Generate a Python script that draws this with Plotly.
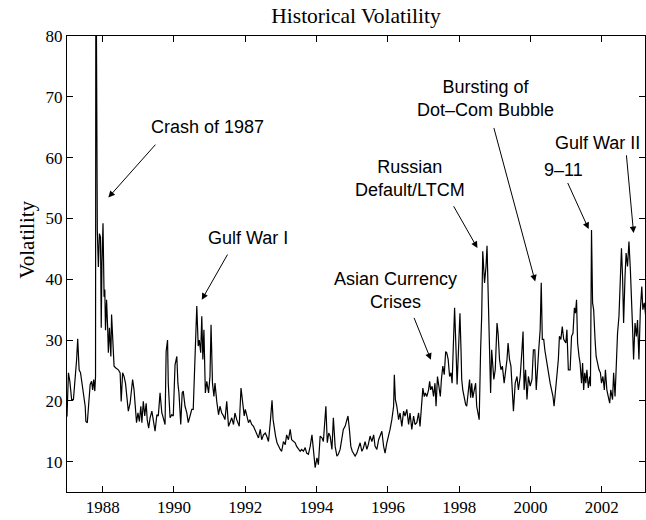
import plotly.graph_objects as go

# ---- data (decimal year, volatility) ----
years = [
    1987.00, 1987.02, 1987.04, 1987.08, 1987.13, 1987.18, 1987.22, 1987.27, 1987.30, 1987.34,
    1987.38, 1987.42, 1987.46, 1987.51, 1987.53, 1987.57, 1987.61, 1987.65, 1987.69, 1987.72,
    1987.75, 1987.78,
    1987.80, 1987.81, 1987.83, 1987.85, 1987.88, 1987.91, 1987.94, 1987.96, 1987.98, 1988.01,
    1988.04, 1988.06, 1988.08, 1988.11, 1988.14, 1988.16, 1988.19, 1988.23, 1988.25, 1988.28,
    1988.32, 1988.37, 1988.44, 1988.49, 1988.52, 1988.56, 1988.60, 1988.64, 1988.67, 1988.72,
    1988.77, 1988.81, 1988.84, 1988.88, 1988.92, 1988.95, 1988.99,
    1989.03, 1989.07, 1989.10, 1989.14, 1989.18, 1989.22, 1989.25, 1989.29, 1989.33, 1989.38,
    1989.42, 1989.47, 1989.52, 1989.56, 1989.61, 1989.66, 1989.70, 1989.75, 1989.78, 1989.82,
    1989.84, 1989.89, 1989.94, 1989.98, 1990.03, 1990.08, 1990.11, 1990.14, 1990.19, 1990.23,
    1990.26, 1990.31, 1990.36, 1990.40, 1990.45, 1990.50, 1990.54, 1990.59, 1990.64, 1990.68,
    1990.71, 1990.75, 1990.78, 1990.81, 1990.84, 1990.88, 1990.92, 1990.97, 1991.01, 1991.04,
    1991.08, 1991.12, 1991.15, 1991.20, 1991.25, 1991.29, 1991.34, 1991.39, 1991.43, 1991.48,
    1991.53, 1991.57, 1991.62, 1991.67, 1991.71, 1991.76, 1991.83, 1991.88, 1991.93, 1991.97,
    1992.00, 1992.04, 1992.09, 1992.13, 1992.18, 1992.23, 1992.27, 1992.32, 1992.37, 1992.42,
    1992.46, 1992.51, 1992.56, 1992.60, 1992.65, 1992.70, 1992.75, 1992.78, 1992.81, 1992.85,
    1992.89, 1992.93, 1992.98, 1993.02, 1993.07, 1993.12, 1993.16, 1993.21, 1993.26, 1993.30,
    1993.35, 1993.40, 1993.44, 1993.49, 1993.54, 1993.58, 1993.63, 1993.68, 1993.72, 1993.77,
    1993.82, 1993.87, 1993.91, 1993.96, 1994.01, 1994.05, 1994.10, 1994.15, 1994.19, 1994.26,
    1994.30, 1994.34, 1994.38, 1994.43, 1994.47, 1994.52, 1994.57, 1994.61, 1994.66, 1994.71,
    1994.75, 1994.80, 1994.85, 1994.88, 1994.92, 1994.96, 1995.00, 1995.03, 1995.08, 1995.13,
    1995.22, 1995.27, 1995.31, 1995.36, 1995.41, 1995.45, 1995.50, 1995.55, 1995.60, 1995.64,
    1995.69, 1995.74, 1995.78, 1995.83, 1995.88, 1995.92, 1995.97, 1996.02, 1996.06, 1996.11,
    1996.16, 1996.18, 1996.21, 1996.25, 1996.30, 1996.34, 1996.39, 1996.44, 1996.48, 1996.53,
    1996.58, 1996.62, 1996.67, 1996.72, 1996.76, 1996.81, 1996.86, 1996.90, 1996.95, 1996.98,
    1997.02, 1997.05, 1997.09, 1997.14, 1997.17, 1997.20, 1997.24, 1997.28, 1997.32, 1997.35,
    1997.39, 1997.43, 1997.47, 1997.50, 1997.54, 1997.58, 1997.62, 1997.65, 1997.69, 1997.73,
    1997.77, 1997.80, 1997.84, 1997.87, 1997.91, 1997.94, 1997.98, 1998.02, 1998.05, 1998.07,
    1998.10, 1998.14, 1998.18, 1998.21, 1998.26, 1998.29, 1998.32, 1998.35, 1998.38, 1998.42,
    1998.46, 1998.49, 1998.53, 1998.56,
    1998.60, 1998.63, 1998.66, 1998.69, 1998.71, 1998.75, 1998.78, 1998.81, 1998.83, 1998.86,
    1998.88, 1998.91, 1998.93, 1998.97, 1999.01, 1999.06, 1999.09, 1999.13, 1999.17, 1999.21,
    1999.26, 1999.30, 1999.34, 1999.37, 1999.41, 1999.45, 1999.49, 1999.52, 1999.57, 1999.62,
    1999.66, 1999.71, 1999.76, 1999.79, 1999.82, 1999.86, 1999.90, 1999.94, 1999.99, 2000.04,
    2000.08, 2000.12, 2000.16, 2000.20, 2000.23, 2000.27, 2000.30, 2000.33, 2000.37, 2000.40,
    2000.44, 2000.48, 2000.51, 2000.55, 2000.59, 2000.63, 2000.66, 2000.70, 2000.74, 2000.78,
    2000.81, 2000.85, 2000.89, 2000.93,
    2000.99, 2001.02, 2001.06, 2001.11, 2001.15, 2001.19, 2001.23, 2001.26, 2001.29, 2001.32,
    2001.36, 2001.39, 2001.43, 2001.46, 2001.49, 2001.52, 2001.55, 2001.58, 2001.62, 2001.66,
    2001.68, 2001.71, 2001.74, 2001.77, 2001.81, 2001.84, 2001.88, 2001.92, 2001.96, 2001.99,
    2002.03, 2002.07, 2002.10, 2002.14, 2002.18, 2002.22, 2002.25, 2002.30, 2002.33, 2002.37,
    2002.40, 2002.44, 2002.48, 2002.52, 2002.55, 2002.58, 2002.61, 2002.65, 2002.68, 2002.72,
    2002.76, 2002.80, 2002.83, 2002.86, 2002.89, 2002.93, 2002.97, 2003.00, 2003.04, 2003.08,
    2003.12, 2003.15, 2003.19, 2003.23,
]

volatility = [
    17.4, 20.5, 24.6, 23.2, 20.2, 20.2, 22.9, 26.8, 30.2, 25.1,
    24.6, 22.7, 21.0, 19.1, 16.6, 16.4, 19.6, 22.7, 23.2, 21.8,
    23.5, 21.6,
    24.0, 100.0, 75.0, 48.0, 42.0, 47.5, 46.9, 32.0, 42.6, 49.2,
    37.1, 38.3, 31.6, 36.6, 32.0, 27.9, 32.0, 27.3, 34.2, 31.4,
    25.7, 25.4, 25.1, 24.6, 19.9, 24.6, 24.0, 22.9, 20.7, 18.3,
    19.6, 22.4, 23.5, 21.8, 19.1, 16.4, 18.0,
    16.6, 19.1, 16.4, 19.9, 17.5, 19.6, 16.9, 15.5, 17.2, 18.3,
    16.9, 15.0, 17.7, 17.5, 21.3, 18.0, 17.2, 16.1, 28.1, 30.0,
    22.9, 17.2, 17.7, 17.5, 25.9, 27.3, 22.9, 21.3, 16.1, 21.3,
    21.6, 19.1, 18.0, 16.4, 17.5, 18.6, 18.6, 27.9, 35.6, 29.0,
    30.0, 27.9, 33.9, 26.8, 31.7, 21.3, 23.2, 21.3, 24.0, 32.5,
    22.9, 20.7, 22.9, 19.9, 17.7, 19.1, 18.0, 17.5, 16.9, 19.9,
    15.8, 16.4, 17.2, 16.1, 18.0, 16.9, 15.8, 22.1, 19.1, 17.5,
    18.6, 17.5, 16.4, 16.9, 16.1, 15.8, 15.3, 14.7, 13.9, 15.3,
    13.6, 14.4, 14.7, 14.2, 13.3, 16.4, 20.1, 16.9, 15.3, 14.2,
    13.1, 12.5, 12.0, 11.7, 13.3, 12.8, 14.4, 13.6, 15.3, 13.6,
    13.3, 13.1, 12.5, 12.0, 11.7, 12.0, 11.7, 12.3, 11.4, 11.2,
    12.5, 14.4, 12.0, 9.0, 10.6, 9.5, 14.2, 13.9, 13.3, 19.1,
    13.1, 14.7, 14.2, 12.0, 17.2, 12.5, 10.9, 11.2, 12.0, 14.2,
    15.3, 15.8, 16.9, 17.5, 15.3, 12.5, 11.7, 11.4, 10.9, 11.4,
    13.1, 11.7, 12.2, 13.3, 12.0, 12.8, 14.2, 13.3, 14.4, 12.5,
    12.0, 13.6, 14.2, 15.0, 12.5, 11.4, 13.1, 14.2, 15.3, 16.9,
    19.1, 24.3, 20.2, 19.1, 16.9, 18.0, 15.8, 18.3, 17.5, 18.6,
    16.1, 18.0, 15.3, 17.5, 16.1, 16.4, 18.0, 15.8, 19.6, 22.1,
    20.7, 21.3, 20.7, 21.8, 23.2, 21.8, 22.4, 20.7, 22.9, 19.1,
    24.0, 21.8, 20.7, 23.5, 25.7, 24.3, 28.1, 27.9, 26.8, 24.0,
    24.6, 22.9, 31.1, 35.3, 28.4, 22.7, 28.4, 34.4, 28.4, 23.5,
    21.8, 20.2, 19.4, 19.1, 21.8, 23.5, 20.5, 22.9, 20.5, 21.8,
    22.9, 19.1, 18.0, 16.9,
    28.4, 34.0, 44.6, 42.0, 39.4, 42.0, 45.5, 38.0, 33.9, 28.4,
    21.3, 28.4, 27.0, 23.5, 25.1, 32.8, 31.1, 26.8, 25.1, 25.7,
    22.9, 24.6, 26.8, 29.5, 26.8, 25.7, 20.7, 18.3, 22.9, 24.0,
    21.8, 24.0, 28.4, 31.4, 21.8, 25.1, 20.2, 24.0, 22.4, 23.5,
    28.4, 28.4, 21.8, 26.8, 28.4, 31.7, 39.4, 30.1, 30.1, 28.4,
    26.8, 25.7, 24.0, 22.9, 21.8, 20.7, 19.1, 21.3, 24.0, 26.8,
    30.6, 30.1, 32.2, 30.1,
    29.5, 31.7, 25.1, 25.1, 30.6, 31.1, 35.3, 34.4, 36.6, 29.5,
    27.3, 26.2, 22.9, 26.2, 21.8, 24.6, 22.9, 25.1, 22.1, 24.0,
    22.4, 48.1, 36.1, 35.0, 30.0, 27.3, 26.2, 25.1, 24.6, 22.9,
    24.0, 21.8, 25.1, 21.8, 20.7, 19.6, 21.8, 20.2, 24.6, 20.7,
    25.1, 31.1, 33.9, 40.5, 45.1, 40.5, 32.8, 40.5, 44.3, 42.1,
    46.2, 41.5, 34.4, 32.2, 26.8, 32.8, 30.6, 33.3, 26.8, 35.0,
    38.8, 35.0, 36.1, 33.9,
]

x_ticks = [1988, 1990, 1992, 1994, 1996, 1998, 2000, 2002]
y_ticks = [10, 20, 30, 40, 50, 60, 70, 80]

# event labels: text, text position (year, vol), arrow tip (year, vol), tail offset (px)
labels = ["Crash of 1987", "Gulf War I", "Asian Currency<br>Crises", "Russian<br>Default/LTCM",
          "Bursting of<br>Dot\u2013Com Bubble", "9\u201311", "Gulf War II"]
label_x = [1990.94, 1992.09, 1996.22, 1996.61, 1998.73, 2000.92, 2001.89]
label_y = [65.05, 46.8, 38.1, 56.6, 69.7, 58.0, 62.4]
tip_x = [1988.16, 1990.78, 1997.205, 1998.51, 2000.13, 2001.63, 2002.89]
tip_y = [53.43, 36.62, 26.76, 45.12, 39.63, 48.24, 47.58]
tail_dx = [48.4, 26.6, -17.4, -24.6, -41.7, -21.6, -7.3]
tail_dy = [-54.4, -46.7, -43.3, -43.3, -155.0, -47.6, -79.3]

fig = go.Figure()
fig.add_trace(go.Scatter(x=years, y=volatility, mode="lines",
                         line=dict(color="black", width=1.2), showlegend=False,
                         hoverinfo="skip"))

serif = "Liberation Serif, Times New Roman, serif"
annotations = []
for t, lx, ly in zip(labels, label_x, label_y):
    annotations.append(dict(x=lx, y=ly, xref="x", yref="y", text=t, showarrow=False,
                            font=dict(family="Liberation Sans, Arial, sans-serif", size=18, color="black"),
                            align="center", xanchor="center", yanchor="middle"))
for px_, py_, dx, dy in zip(tip_x, tip_y, tail_dx, tail_dy):
    annotations.append(dict(x=px_, y=py_, xref="x", yref="y", text="", showarrow=True,
                            ax=dx, ay=dy, arrowhead=2, arrowsize=1.3, arrowwidth=1,
                            arrowcolor="black", standoff=0, startstandoff=0))
# y-axis label (placed as in the reference, slightly above the axis middle)
annotations.append(dict(x=-40 / 578, y=46.5, xref="paper", yref="y", text="Volatility",
                        showarrow=False, textangle=-90, xanchor="center", yanchor="middle",
                        font=dict(family=serif, size=21, color="black")))

fig.update_layout(
    width=646, height=520,
    margin=dict(l=67, r=1, t=36, b=28),
    paper_bgcolor="white", plot_bgcolor="white",
    title=dict(text="Historical Volatility", x=0.5, xref="paper", y=1 - 15 / 520,
               yref="container", xanchor="center", yanchor="middle",
               font=dict(family=serif, size=21.5, color="black")),
    xaxis=dict(range=[1987.0, 2003.21], tickvals=x_ticks, ticktext=[str(v) for v in x_ticks],
               ticks="inside", ticklen=6, tickcolor="black", showline=True, linecolor="black",
               linewidth=1, mirror="ticks", showgrid=False, zeroline=False,
               tickfont=dict(family=serif, size=17, color="black")),
    yaxis=dict(range=[5, 80], tickvals=y_ticks, ticks="inside", ticklen=6, tickcolor="black",
               showline=True, linecolor="black", linewidth=1, mirror="ticks", showgrid=False,
               zeroline=False, tickfont=dict(family=serif, size=17, color="black")),
    annotations=annotations,
)

fig.write_html("out.html", config={"displayModeBar": False},
               post_script="document.body.style.margin='0';document.body.style.padding='0';"
                           "document.documentElement.style.overflow='hidden';")
